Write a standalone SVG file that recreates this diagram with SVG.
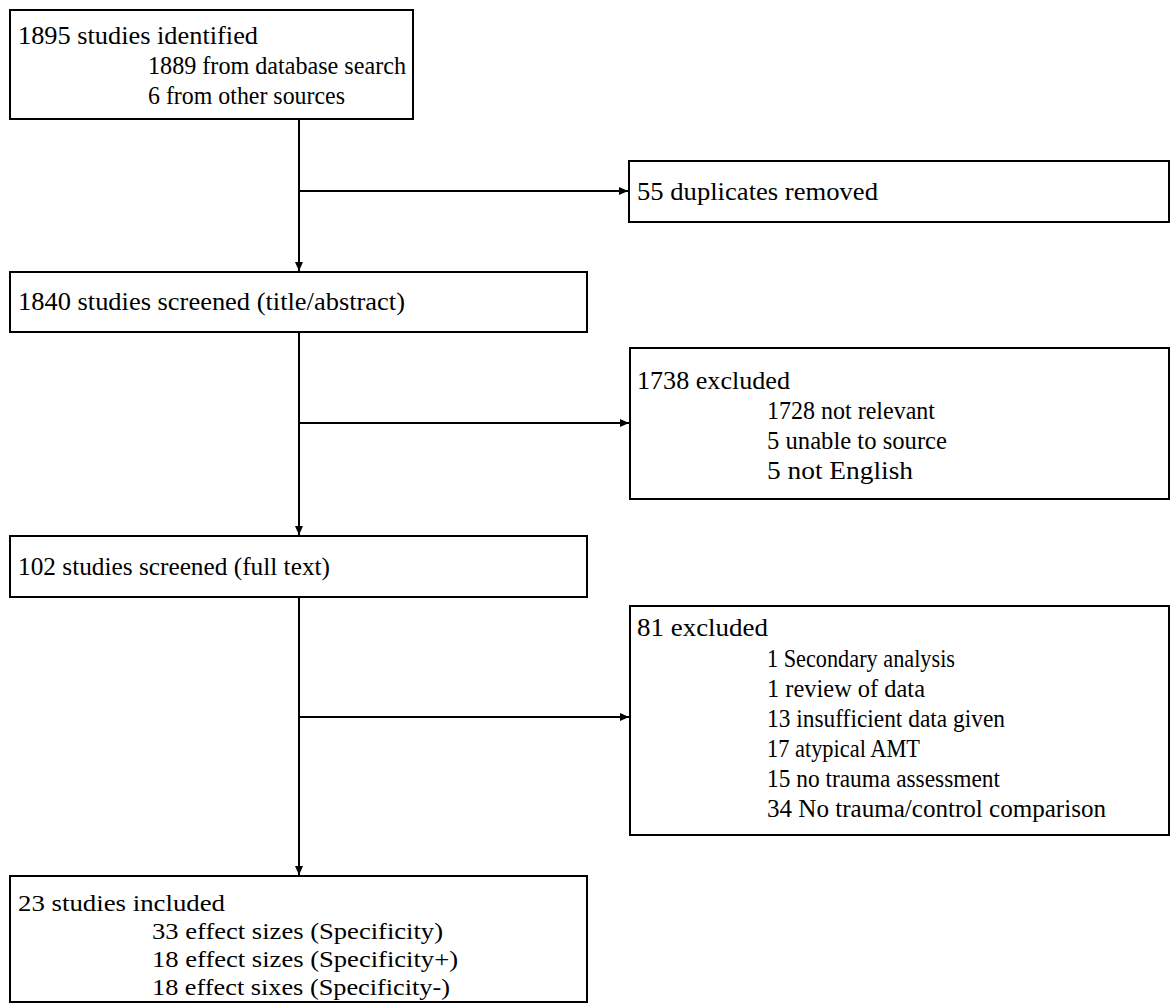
<svg xmlns="http://www.w3.org/2000/svg" width="1170" height="1003" viewBox="0 0 1170 1003">
<style>
.box{fill:#fff;stroke:#000;stroke-width:2}
.t{font-family:'Liberation Serif','Times New Roman','DejaVu Serif',serif;font-size:25px;fill:#000}
.s{font-size:24px}
.c{stroke:#000;stroke-width:2;fill:none}
</style>
<defs>
<marker id="ah" markerWidth="10" markerHeight="10" refX="9" refY="5" orient="auto" markerUnits="userSpaceOnUse">
<path d="M0,1 L9,5 L0,9 Z" fill="#000"/>
</marker>
</defs>
<rect width="1170" height="1003" fill="#fff"/>
<g id="connectors">
<line class="c" x1="299" y1="119" x2="299" y2="271" marker-end="url(#ah)"/>
<line class="c" x1="299" y1="191" x2="628" y2="191" marker-end="url(#ah)"/>
<line class="c" x1="299" y1="332" x2="299" y2="535" marker-end="url(#ah)"/>
<line class="c" x1="299" y1="423" x2="629" y2="423" marker-end="url(#ah)"/>
<line class="c" x1="299" y1="597" x2="299" y2="875" marker-end="url(#ah)"/>
<line class="c" x1="299" y1="717" x2="629" y2="717" marker-end="url(#ah)"/>
</g>
<g id="n1">
<rect class="box" x="10" y="10" width="403" height="109"/>
<text class="t" x="18" y="44" textLength="240" lengthAdjust="spacingAndGlyphs">1895 studies identified</text>
<text class="t" x="148" y="74" textLength="258" lengthAdjust="spacingAndGlyphs">1889 from database search</text>
<text class="t" x="148" y="104" textLength="197" lengthAdjust="spacingAndGlyphs">6 from other sources</text>
</g>
<g id="n2">
<rect class="box" x="629" y="161" width="540" height="61"/>
<text class="t" x="637" y="200" textLength="241" lengthAdjust="spacingAndGlyphs">55 duplicates removed</text>
</g>
<g id="n3">
<rect class="box" x="10" y="272" width="577" height="60"/>
<text class="t" x="18" y="310" textLength="387" lengthAdjust="spacingAndGlyphs">1840 studies screened (title/abstract)</text>
</g>
<g id="n4">
<rect class="box" x="630" y="348" width="539" height="151"/>
<text class="t" x="637" y="389" textLength="153" lengthAdjust="spacingAndGlyphs">1738 excluded</text>
<text class="t" x="767" y="419" textLength="168" lengthAdjust="spacingAndGlyphs">1728 not relevant</text>
<text class="t" x="767" y="449" textLength="180" lengthAdjust="spacingAndGlyphs">5 unable to source</text>
<text class="t" x="767" y="479" textLength="146" lengthAdjust="spacingAndGlyphs">5 not English</text>
</g>
<g id="n5">
<rect class="box" x="10" y="536" width="577" height="61"/>
<text class="t" x="18" y="575" textLength="312" lengthAdjust="spacingAndGlyphs">102 studies screened (full text)</text>
</g>
<g id="n6">
<rect class="box" x="630" y="606" width="539" height="229"/>
<text class="t" x="637" y="636" textLength="131" lengthAdjust="spacingAndGlyphs">81 excluded</text>
<text class="t" x="767" y="667" textLength="188" lengthAdjust="spacingAndGlyphs">1 Secondary analysis</text>
<text class="t" x="767" y="697" textLength="158" lengthAdjust="spacingAndGlyphs">1 review of data</text>
<text class="t" x="767" y="727" textLength="238" lengthAdjust="spacingAndGlyphs">13 insufficient data given</text>
<text class="t" x="767" y="757" textLength="153" lengthAdjust="spacingAndGlyphs">17 atypical AMT</text>
<text class="t" x="767" y="787" textLength="233" lengthAdjust="spacingAndGlyphs">15 no trauma assessment</text>
<text class="t" x="767" y="817" textLength="339" lengthAdjust="spacingAndGlyphs">34 No trauma/control comparison</text>
</g>
<g id="n7">
<rect class="box" x="10" y="876" width="577" height="126"/>
<text class="t s" x="18" y="911" textLength="207" lengthAdjust="spacingAndGlyphs">23 studies included</text>
<text class="t s" x="152" y="939" textLength="291" lengthAdjust="spacingAndGlyphs">33 effect sizes (Specificity)</text>
<text class="t s" x="152" y="967" textLength="306" lengthAdjust="spacingAndGlyphs">18 effect sizes (Specificity+)</text>
<text class="t s" x="152" y="995" textLength="298" lengthAdjust="spacingAndGlyphs">18 effect sixes (Specificity-)</text>
</g>
</svg>
